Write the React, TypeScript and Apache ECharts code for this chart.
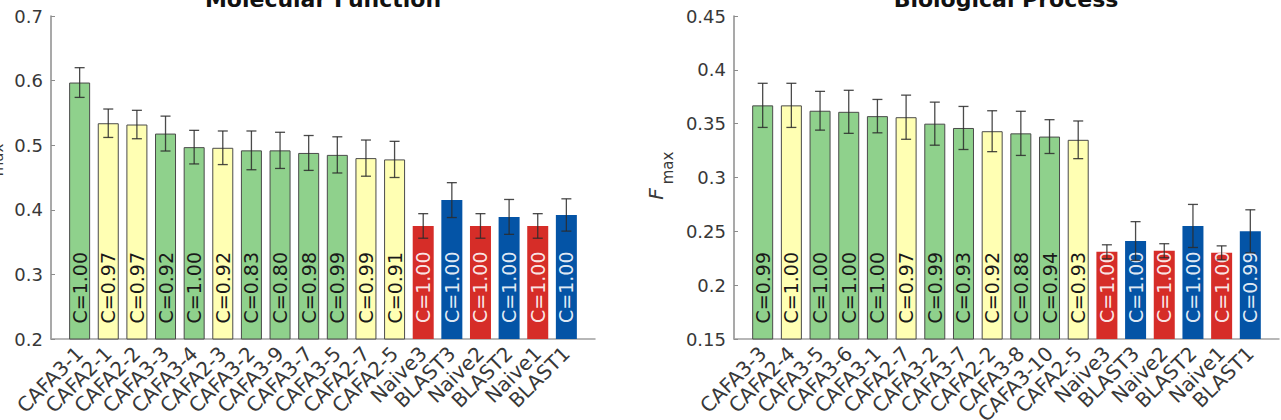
import React, { useEffect, useRef } from "react";
import * as echarts from "echarts";

// Molecular Function panel
const mfMethods = [
  "CAFA3-1", "CAFA2-1", "CAFA2-2", "CAFA3-3", "CAFA3-4", "CAFA2-3",
  "CAFA3-2", "CAFA3-9", "CAFA3-7", "CAFA3-5", "CAFA2-7", "CAFA2-5",
  "Naive3", "BLAST3", "Naive2", "BLAST2", "Naive1", "BLAST1",
];
const mfFmax = [
  0.597, 0.534, 0.532, 0.518, 0.497, 0.496, 0.492, 0.492, 0.488, 0.485, 0.480, 0.478,
  0.375, 0.415, 0.375, 0.389, 0.375, 0.392,
];
const mfErr = [
  0.023, 0.022, 0.022, 0.027, 0.026, 0.026, 0.030, 0.028, 0.027, 0.028, 0.028, 0.028,
  0.019, 0.027, 0.019, 0.027, 0.019, 0.025,
];
const mfCoverage = [
  "1.00", "0.97", "0.97", "0.92", "1.00", "0.92", "0.83", "0.80", "0.98", "0.99", "0.99", "0.91",
  "1.00", "1.00", "1.00", "1.00", "1.00", "1.00",
];

// Biological Process panel
const bpMethods = [
  "CAFA3-3", "CAFA2-4", "CAFA3-5", "CAFA3-6", "CAFA3-1", "CAFA2-7",
  "CAFA3-2", "CAFA3-7", "CAFA2-2", "CAFA3-8", "CAFA3-10", "CAFA2-5",
  "Naive3", "BLAST3", "Naive2", "BLAST2", "Naive1", "BLAST1",
];
const bpFmax = [
  0.367, 0.367, 0.362, 0.361, 0.357, 0.356, 0.350, 0.346, 0.343, 0.341, 0.338, 0.335,
  0.231, 0.241, 0.232, 0.255, 0.230, 0.250,
];
const bpErr = [
  0.0205, 0.0205, 0.018, 0.020, 0.0155, 0.0205, 0.020, 0.020, 0.019, 0.0205, 0.0157, 0.0175,
  0.0065, 0.018, 0.0065, 0.020, 0.0065, 0.020,
];
const bpCoverage = [
  "0.99", "1.00", "1.00", "1.00", "1.00", "0.97", "0.99", "0.93", "0.92", "0.88", "0.94", "0.93",
  "1.00", "1.00", "1.00", "1.00", "1.00", "0.99",
];

const mfTicks = { min: 0.2, max: 0.7, interval: 0.1 };
const bpTicks = { min: 0.15, max: 0.45, interval: 0.05 };

const FONT = "DejaVu Sans";
const TEXT = "#383838";

const GROUP_FILL: Record<string, string> = {
  CAFA3: "#8fd18c",
  CAFA2: "#ffffb3",
  Naive: "#d62d28",
  BLAST: "#0454a6",
};

function groupOf(name: string): string {
  if (name.startsWith("CAFA3")) return "CAFA3";
  if (name.startsWith("CAFA2")) return "CAFA2";
  if (name.startsWith("Naive")) return "Naive";
  return "BLAST";
}

function barData(names: string[], values: number[], coverage: string[]) {
  const items = names.map((n, i) => {
    const g = groupOf(n);
    const isBaseline = g === "Naive" || g === "BLAST";
    return {
      value: values[i],
      itemStyle: {
        color: GROUP_FILL[g],
        borderColor: isBaseline ? GROUP_FILL[g] : "#4a4a4a",
        borderWidth: isBaseline ? 0 : 1,
      },
      label: {
        formatter: "C=" + coverage[i],
        color: isBaseline ? "rgba(255,255,255,0.9)" : "#1a1a1a",
      },
    };
  });
  return ["-", ...items, "-"];
}

function errData(values: number[], errs: number[]) {
  return values.map((v, i) => [i + 1, v - errs[i], v + errs[i]]);
}

const renderErr = (params: any, api: any) => {
  const x = api.value(0);
  const lo = api.coord([x, api.value(1)]);
  const hi = api.coord([x, api.value(2)]);
  const half = 5;
  const style = { stroke: "#2b2b2b", lineWidth: 1.3, opacity: 0.85 };
  return {
    type: "group",
    children: [
      { type: "line", shape: { x1: lo[0], y1: lo[1], x2: hi[0], y2: hi[1] }, style },
      { type: "line", shape: { x1: lo[0] - half, y1: lo[1], x2: lo[0] + half, y2: lo[1] }, style },
      { type: "line", shape: { x1: hi[0] - half, y1: hi[1], x2: hi[0] + half, y2: hi[1] }, style },
    ],
  };
};

function xAxisFor(names: string[], gridIndex: number) {
  return {
    type: "category",
    gridIndex,
    data: ["", ...names, ""],
    boundaryGap: false,
    axisLine: { show: true, lineStyle: { color: "#a0a0a0", width: 1.5 } },
    axisTick: { show: false },
    axisLabel: {
      interval: 0,
      rotate: 45,
      margin: 11,
      color: TEXT,
      fontFamily: FONT,
      fontSize: 20,
    },
    splitLine: { show: false },
  };
}

function yAxisFor(t: { min: number; max: number; interval: number }, gridIndex: number, digits: number) {
  return {
    type: "value",
    gridIndex,
    min: t.min,
    max: t.max,
    interval: t.interval,
    axisLine: { show: true, lineStyle: { color: "#8c8c8c", width: 1.5 } },
    axisTick: { show: true, inside: true, length: 4, lineStyle: { color: "#8c8c8c" } },
    axisLabel: {
      color: TEXT,
      fontFamily: FONT,
      fontSize: 18,
      margin: 8,
      formatter: (v: number) => String(parseFloat(v.toFixed(digits))),
    },
    splitLine: { show: false },
  };
}

function barSeries(idx: number, names: string[], values: number[], coverage: string[]) {
  return {
    type: "bar",
    xAxisIndex: idx,
    yAxisIndex: idx,
    barWidth: 21,
    data: barData(names, values, coverage),
    label: {
      show: true,
      position: "insideBottom",
      rotate: 90,
      align: "left",
      verticalAlign: "middle",
      distance: 16,
      fontFamily: FONT,
      fontSize: 19,
    },
    z: 2,
  };
}

function errSeries(idx: number, values: number[], errs: number[]) {
  return {
    type: "custom",
    xAxisIndex: idx,
    yAxisIndex: idx,
    renderItem: renderErr,
    encode: { x: 0, y: [1, 2] },
    data: errData(values, errs),
    z: 5,
  };
}

function yName(cx: number, cy: number) {
  return [
    {
      type: "text",
      x: cx,
      y: cy + 26,
      rotation: Math.PI / 2,
      style: {
        text: "F",
        font: `italic 20px "${FONT}"`,
        fill: TEXT,
        textAlign: "center",
        textVerticalAlign: "middle",
      },
    },
    {
      type: "text",
      x: cx + 12,
      y: cy,
      rotation: Math.PI / 2,
      style: {
        text: "max",
        font: `15px "${FONT}"`,
        fill: TEXT,
        textAlign: "center",
        textVerticalAlign: "middle",
      },
    },
  ];
}

function title(text: string, cx: number) {
  return {
    type: "text",
    x: cx,
    y: -1,
    style: {
      text,
      font: `bold 22px "${FONT}"`,
      fill: "#111111",
      textAlign: "center",
      textVerticalAlign: "middle",
    },
  };
}

export default function App() {
  const ref = useRef<HTMLDivElement>(null);

  useEffect(() => {
    if (!ref.current) return;
    const chart = echarts.init(ref.current, undefined, { renderer: "svg" });
    chart.setOption({
      animation: false,
      backgroundColor: "#ffffff",
      textStyle: { fontFamily: FONT },
      grid: [
        { left: 51, top: 16, width: 544, height: 323, outerBoundsMode: "none", containLabel: false },
        { left: 734, top: 16, width: 545, height: 323, outerBoundsMode: "none", containLabel: false },
      ],
      xAxis: [xAxisFor(mfMethods, 0), xAxisFor(bpMethods, 1)],
      yAxis: [yAxisFor(mfTicks, 0, 1), yAxisFor(bpTicks, 1, 2)],
      series: [
        barSeries(0, mfMethods, mfFmax, mfCoverage),
        errSeries(0, mfFmax, mfErr),
        barSeries(1, bpMethods, bpFmax, bpCoverage),
        errSeries(1, bpFmax, bpErr),
      ],
      graphic: [
        title("Molecular Function", 323),
        title("Biological Process", 1006),
        ...yName(-14, 160),
        ...yName(656, 168),
      ],
    });
    return () => chart.dispose();
  }, []);

  return (
    <div
      ref={ref}
      style={{ position: "fixed", left: 0, top: 0, width: 1281, height: 420, background: "#fff" }}
    />
  );
}
